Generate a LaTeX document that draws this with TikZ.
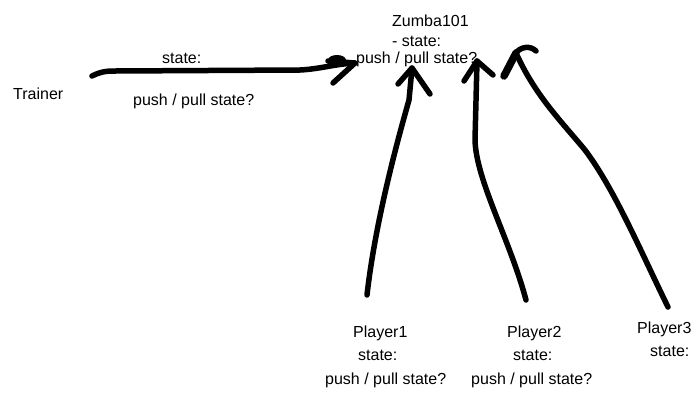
\documentclass[tikz,border=0pt]{standalone}
\usepackage{fontspec}
\setmainfont{Liberation Sans}
\begin{document}
\begin{tikzpicture}[x=1pt,y=-1pt,font=\fontsize{16}{18}\selectfont]
  \tikzset{
    lbl/.style={inner sep=0pt,anchor=base west},
    stroke/.style={line width=5.5pt,line cap=round,line join=round}
  }
  \useasboundingbox (0,0) rectangle (700,405);

  % labels
  \node[lbl] (trainer) at (13,99) {Trainer};
  \node[lbl] (tstate) at (162,63) {state:};
  \node[lbl] (tpush) at (133,105) {push / pull state?};

  \node[lbl] (zumba) at (392,26) {Zumba101};
  \node[lbl] (zstate) at (392,46) {- state:};
  \node[lbl] (zpush) at (356,63) {push / pull state?};

  \node[lbl] (p1) at (353,337) {Player1};
  \node[lbl] (p1state) at (358,360) {state:};
  \node[lbl] (p1push) at (325,384) {push / pull state?};

  \node[lbl] (p2) at (507,337) {Player2};
  \node[lbl] (p2state) at (513,360) {state:};
  \node[lbl] (p2push) at (471,384) {push / pull state?};

  \node[lbl] (p3) at (637,333) {Player3};
  \node[lbl] (p3state) at (650,356) {state:};

  % hand drawn arrows
  \coordinate (tA) at (92,76);
  \coordinate (tB) at (355,63);
  \draw[stroke] (tA) .. controls (100,72) and (105,71) .. (115,71) -- (300,70)
    .. controls (320,69) and (335,64) .. (tB);
  \fill (337,60) ellipse [x radius=9pt,y radius=5pt];
  \draw[stroke] (328,61) -- (tB) -- (333,83);

  \coordinate (p1A) at (367,295);
  \coordinate (p1B) at (412,68);
  \draw[stroke] (p1A) .. controls (376,215) and (402,125) .. (409,100)
    -- (p1B);
  \draw[stroke] (398,84) -- (p1B) -- (430,94);

  \coordinate (p2A) at (526,300);
  \coordinate (p2B) at (477,61);
  \draw[stroke] (p2A) .. controls (510,240) and (476,180) .. (475,140) -- (p2B);
  \draw[stroke] (464,81) -- (p2B) -- (493,75);

  \coordinate (p3A) at (668,307);
  \coordinate (p3B) at (516,53);
  \draw[stroke] (p3A) .. controls (640,250) and (615,190) .. (585,150)
    .. controls (560,120) and (535,95) .. (p3B);
  \draw[stroke,line width=7.5pt] (504,76) -- (p3B);
  \draw[stroke] (p3B) .. controls (520,47) and (530,45) .. (536,51);
\end{tikzpicture}
\end{document}
